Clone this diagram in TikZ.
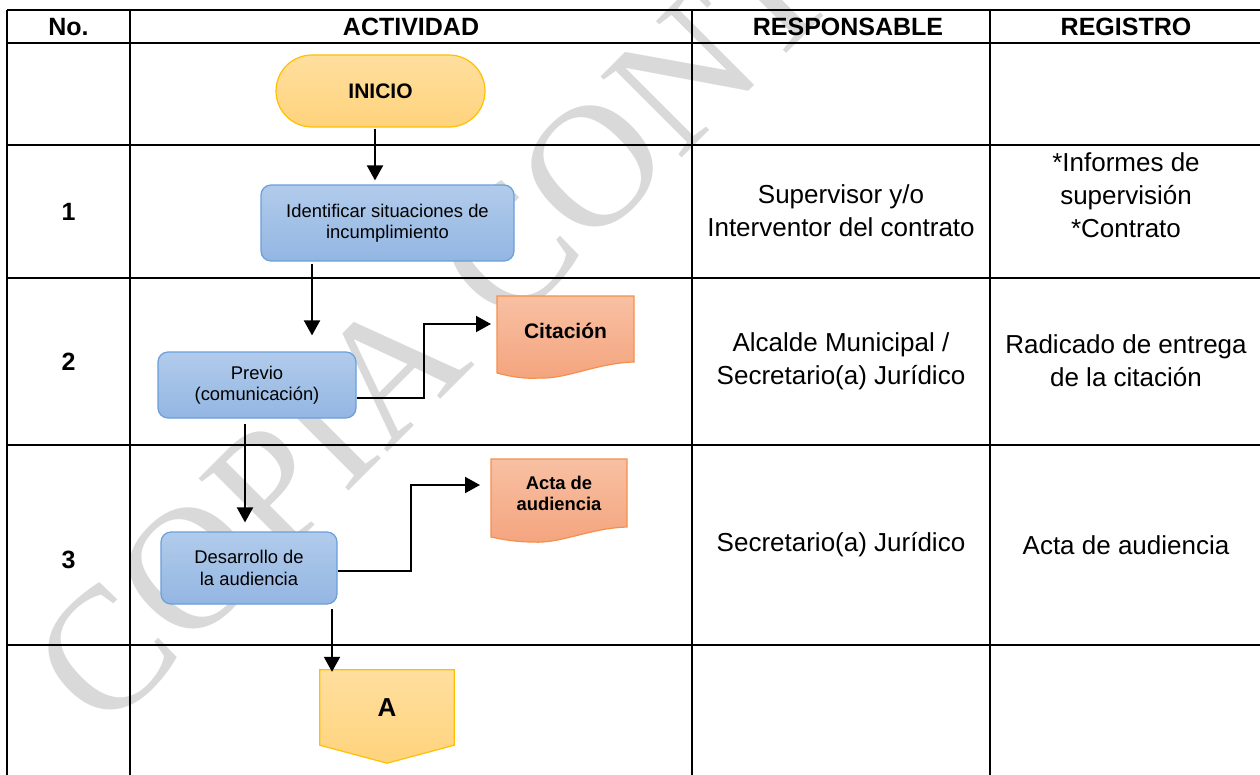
\documentclass[tikz,border=0pt]{standalone}
\usepackage{fontspec}
\setmainfont{Liberation Sans}
\newfontfamily\wmfont{Liberation Serif}
\usetikzlibrary{arrows.meta,calc}
\definecolor{wmgray}{RGB}{217,217,217}
\definecolor{goldB}{RGB}{255,192,0}
\definecolor{goldT}{RGB}{255,223,158}
\definecolor{goldBot}{RGB}{255,211,125}
\definecolor{blueB}{RGB}{106,159,220}
\definecolor{blueT}{RGB}{177,203,235}
\definecolor{blueBot}{RGB}{147,182,226}
\definecolor{orB}{RGB}{245,144,76}
\definecolor{orT}{RGB}{248,192,163}
\definecolor{orBot}{RGB}{244,164,126}
\begin{document}
\begin{tikzpicture}[x=1pt,y=-1pt,
  tline/.style={line width=2.2pt, black},
  arr/.style={line width=2pt, black, -{Triangle[width=16pt,length=15pt]}},
  hdr/.style={font=\fontsize{25}{30}\selectfont\bfseries, inner sep=0pt},
  num/.style={font=\fontsize{25}{30}\selectfont\bfseries, inner sep=0pt},
  cell/.style={font=\fontsize{26}{33}\selectfont, align=center, inner sep=0pt},
  proc/.style={draw=blueB, line width=1.2pt, rounded corners=10pt, top color=blueT, bottom color=blueBot, align=center, font=\fontsize{18.4}{21.5}\selectfont, inner sep=0pt},
  term/.style={draw=goldB, line width=1.2pt, rounded corners=36pt, top color=goldT, bottom color=goldBot, font=\fontsize{21}{25}\selectfont\bfseries, inner sep=0pt},
  docshape/.style={draw=orB, line width=1.2pt, top color=orT, bottom color=orBot},
  offshape/.style={draw=goldB, line width=1.2pt, top color=goldT, bottom color=goldBot},
  doctext/.style={font=\fontsize{21}{24}\selectfont\bfseries, align=center, inner sep=0pt},
  doctexts/.style={font=\fontsize{18.4}{21}\selectfont\bfseries, align=center, inner sep=0pt},
  wm/.style={text=wmgray, font=\wmfont\fontsize{175}{175}\selectfont, inner sep=0pt}
]
\useasboundingbox (0,0) rectangle (1260,774);
\fill[white] (0,0) rectangle (1260,774);

% watermark
\node[wm, rotate=45, anchor=base west] (wmark) at (104,736) {COPIA CONTROLADA};

% table
\foreach \yy in {10,43,145,278,445,645} \draw[tline] (7,\yy) -- (1262,\yy);
\foreach \xx in {7,130,692,990} \draw[tline] (\xx,10) -- (\xx,776);

% headers
\node[hdr] (hno) at (68.5,27) {No.};
\node[hdr] (hact) at (411,27) {ACTIVIDAD};
\node[hdr] (hres) at (848,27) {RESPONSABLE};
\node[hdr] (hreg) at (1126,27) {REGISTRO};

% numbers
\node[num] (n1) at (68.5,212) {1};
\node[num] (n2) at (68.5,362) {2};
\node[num] (n3) at (68.5,560) {3};

% right columns
\node[cell] (r1) at (841,211) {Supervisor y/o\\Interventor del contrato};
\node[cell] (g1) at (1126,195) {*Informes de\\supervisión\\*Contrato};
\node[cell] (r2) at (841,361) {Alcalde Municipal /\\Secretario(a) Jurídico};
\node[cell] (g2) at (1126,361) {Radicado de entrega\\de la citación};
\node[cell] (r3) at (841,545) {Secretario(a) Jurídico};
\node[cell] (g3) at (1126,545) {Acta de audiencia};

% flow nodes
\node[term, minimum width=209pt, minimum height=72pt] (ini) at (380.5,91) {INICIO};
\node[proc, minimum width=253pt, minimum height=76pt] (b1) at (387.5,223) {Identificar situaciones de\\incumplimiento};
\node[proc, minimum width=198pt, minimum height=66pt] (b2) at (257,385) {Previo\\(comunicación)};
\node[proc, minimum width=176pt, minimum height=72pt] (b3) at (249,568) {Desarrollo de\\la audiencia};

% document: Citacion
\path[docshape] (497,296) -- (634,296) -- (634,362)
   .. controls (597,363) and (567,379) .. (540,378)
   .. controls (525,379) and (512,377) .. (497,373) -- cycle;
\node[doctext] (cit) at (565.5,331) {Citación};

% document: Acta de audiencia
\path[docshape] (491,459) -- (627,459) -- (627,527)
   .. controls (590,528) and (560,544) .. (533,542)
   .. controls (518,542) and (505,540) .. (491,537) -- cycle;
\node[doctexts] (acta) at (559,493) {Acta de\\audiencia};

% off-page connector A
\node[minimum width=134pt, minimum height=75pt, inner sep=0pt] (A) at (387,707.5) {};
\path[offshape] (A.north west) -- (A.north east) -- (A.south east) -- ($(A.south)+(0,18)$) -- (A.south west) -- cycle;
\node[font=\fontsize{26}{30}\selectfont\bfseries, inner sep=0pt] (Atext) at (A.center) {A};

% connectors
\draw[arr] ($(ini.south)+(-5.5,1)$) -- ($(b1.north)+(-12.5,-4)$);
\draw[arr] ($(b1.south)+(-75.5,2)$) -- ($(b2.north)+(55,-16)$);
\draw[arr] ($(b2.east)+(0,13)$) -- ++(67,0) |- ($(cit.center)+(-74.5,-7)$);
\draw[arr] ($(b2.south)+(-12,5)$) -- ($(b3.north)+(-4,-9)$);
\draw[arr] ($(b3.east)+(0,3)$) -- ++(73,0) |- ($(acta.center)+(-79,-8)$);
\draw[arr] ($(b3.south)+(83,4)$) -- ($(A.north)+(-55,2)$);
\end{tikzpicture}
\end{document}
